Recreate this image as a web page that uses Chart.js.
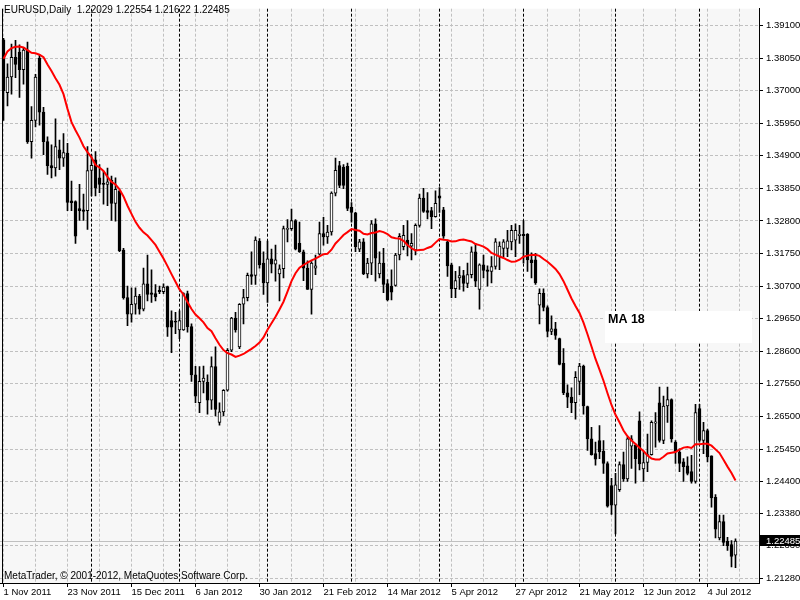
<!DOCTYPE html>
<html>
<head>
<meta charset="utf-8">
<script src="https://cdn.jsdelivr.net/npm/chart.js@4.4.1/dist/chart.umd.min.js"></script>
<style>
  html, body { margin: 0; padding: 0; background: #fff; }
  #wrap { width: 800px; height: 600px; }
</style>
</head>
<body>
<div id="wrap"><canvas id="chart" width="800" height="600"></canvas></div>
<script>
const title = 'EURUSD,Daily';
const footer = 'MetaTrader, \u00a9 2001-2012, MetaQuotes Software Corp.';
const firstDay = '2011-11-01';

// daily OHLC (one entry per trading day)
const opens = [
  1.38633, 1.36932, 1.37440, 1.38075, 1.38243, 1.37671, 1.38306, 1.35354, 1.36043, 1.38052,
  1.36306, 1.35354, 1.34583, 1.34506, 1.35090, 1.34824, 1.34983, 1.33449, 1.33427, 1.33195,
  1.33154, 1.33132, 1.34424, 1.34773, 1.34189, 1.34011, 1.33979, 1.34106, 1.33364, 1.33767,
  1.31862, 1.30329, 1.29798, 1.30116, 1.30379, 1.29957, 1.30773, 1.30487, 1.30456, 1.30560,
  1.30519, 1.30687, 1.29586, 1.29567, 1.29291, 1.29291, 1.30456, 1.29395, 1.27840, 1.26941,
  1.27630, 1.27598, 1.27027, 1.28106, 1.26306, 1.26646, 1.27344, 1.28633, 1.29671, 1.28741,
  1.30116, 1.30329, 1.31068, 1.31046, 1.32148, 1.31440, 1.30805, 1.31576, 1.31408, 1.31090,
  1.31259, 1.32529, 1.32551, 1.32814, 1.32075, 1.31808, 1.31281, 1.30592, 1.31281, 1.31725,
  1.32392, 1.32284, 1.32443, 1.33694, 1.34583, 1.34538, 1.34560, 1.33237, 1.33059, 1.31894,
  1.32125, 1.31090, 1.31440, 1.32710, 1.31090, 1.31440, 1.30783, 1.30697, 1.30719, 1.31703,
  1.31967, 1.32179, 1.31989, 1.31862, 1.32656, 1.33535, 1.33132, 1.33132, 1.32941, 1.33608,
  1.33154, 1.32125, 1.31386, 1.30614, 1.30963, 1.31037, 1.30783, 1.31068, 1.31808, 1.30592,
  1.31386, 1.31227, 1.31173, 1.31332, 1.31649, 1.31916, 1.31916, 1.32125, 1.32179, 1.32329,
  1.32370, 1.32370, 1.31544, 1.31544, 1.30084, 1.30465, 1.30011, 1.29237, 1.29322, 1.29005,
  1.28211, 1.27259, 1.27122, 1.26941, 1.27630, 1.28125, 1.26814, 1.25776, 1.25300, 1.25725,
  1.25376, 1.24983, 1.24275, 1.23640, 1.24138, 1.24951, 1.24487, 1.25544, 1.25567, 1.26360,
  1.24805, 1.25014, 1.25268, 1.26284, 1.26941, 1.25725, 1.26836, 1.27046, 1.25671, 1.25354,
  1.25037, 1.24910, 1.24719, 1.24402, 1.26751, 1.25725, 1.26043, 1.25227, 1.23894, 1.22582,
  1.23110, 1.22475, 1.22370, 1.22029
];
const highs = [
  1.38687, 1.37862, 1.38497, 1.38624, 1.38475, 1.38392, 1.38560, 1.36487, 1.37522, 1.38157,
  1.36465, 1.35513, 1.35249, 1.36094, 1.35408, 1.35618, 1.35300, 1.34084, 1.33449, 1.33979,
  1.33662, 1.35195, 1.34932, 1.35037, 1.34614, 1.34402, 1.34506, 1.34243, 1.34189, 1.33789,
  1.31916, 1.30697, 1.30646, 1.30646, 1.30433, 1.31281, 1.31703, 1.31227, 1.30751, 1.30697,
  1.30773, 1.30697, 1.29903, 1.29852, 1.29903, 1.30487, 1.30538, 1.29481, 1.28116, 1.28106,
  1.28125, 1.27840, 1.28424, 1.28741, 1.26941, 1.27364, 1.28687, 1.29694, 1.29852, 1.30138,
  1.30592, 1.31122, 1.31808, 1.32284, 1.32233, 1.31808, 1.32148, 1.31894, 1.32021, 1.31386,
  1.32633, 1.32846, 1.33186, 1.32846, 1.32760, 1.31862, 1.31513, 1.31490, 1.31703, 1.32760,
  1.32919, 1.32656, 1.33735, 1.34824, 1.34719, 1.34614, 1.34665, 1.33395, 1.33078, 1.32211,
  1.32233, 1.31598, 1.32814, 1.32868, 1.31808, 1.31916, 1.30910, 1.31227, 1.31757, 1.32392,
  1.32656, 1.32814, 1.32392, 1.32710, 1.33662, 1.33852, 1.33713, 1.33237, 1.33767, 1.33871,
  1.33237, 1.32179, 1.31440, 1.31173, 1.31332, 1.31205, 1.31440, 1.31967, 1.32075, 1.31418,
  1.31703, 1.31354, 1.31649, 1.32233, 1.32125, 1.32202, 1.32497, 1.32656, 1.32710, 1.32656,
  1.32814, 1.32392, 1.31776, 1.31757, 1.30614, 1.30614, 1.30062, 1.29744, 1.29535, 1.29027,
  1.28687, 1.27522, 1.27418, 1.27948, 1.28211, 1.28157, 1.26836, 1.26148, 1.25671, 1.26202,
  1.25725, 1.25037, 1.24506, 1.24665, 1.25037, 1.25354, 1.25830, 1.25884, 1.25618, 1.26646,
  1.25376, 1.25935, 1.26360, 1.26624, 1.27449, 1.27154, 1.27449, 1.27068, 1.25725, 1.25459,
  1.25141, 1.25195, 1.25249, 1.26887, 1.26887, 1.26306, 1.26094, 1.25227, 1.23979, 1.23322,
  1.23322, 1.22602, 1.22497, 1.22554
];
const lows = [
  1.36043, 1.36506, 1.36887, 1.37417, 1.36783, 1.37205, 1.35300, 1.34824, 1.35830, 1.35884,
  1.34932, 1.34297, 1.34189, 1.34243, 1.34456, 1.34560, 1.33132, 1.33132, 1.32075, 1.32814,
  1.32814, 1.32529, 1.33608, 1.33608, 1.33713, 1.33344, 1.33290, 1.32814, 1.32792, 1.31808,
  1.30275, 1.29427, 1.29535, 1.29798, 1.29798, 1.29903, 1.30221, 1.30170, 1.30221, 1.30456,
  1.30456, 1.29078, 1.28551, 1.29164, 1.29005, 1.29268, 1.29217, 1.27630, 1.26941, 1.26624,
  1.27259, 1.26570, 1.26729, 1.26519, 1.26221, 1.26519, 1.27313, 1.28583, 1.29217, 1.28687,
  1.29481, 1.30221, 1.30751, 1.30751, 1.31281, 1.30433, 1.30170, 1.31122, 1.30856, 1.30221,
  1.30963, 1.32125, 1.32497, 1.31862, 1.31789, 1.30878, 1.30592, 1.29798, 1.31068, 1.31703,
  1.32021, 1.32075, 1.32338, 1.33608, 1.33871, 1.33840, 1.33132, 1.32760, 1.31808, 1.31808,
  1.31068, 1.30963, 1.31068, 1.30856, 1.30963, 1.30487, 1.30221, 1.30252, 1.30697, 1.31544,
  1.31862, 1.31671, 1.31544, 1.31703, 1.32602, 1.33078, 1.32868, 1.32551, 1.32919, 1.33078,
  1.32233, 1.31014, 1.30329, 1.30329, 1.30592, 1.30538, 1.30646, 1.30963, 1.30678, 1.29957,
  1.30963, 1.30697, 1.30805, 1.31249, 1.31227, 1.31649, 1.31649, 1.31862, 1.31649, 1.32075,
  1.31440, 1.31173, 1.30963, 1.30751, 1.29481, 1.29903, 1.29059, 1.29132, 1.28983, 1.28157,
  1.27205, 1.26783, 1.26624, 1.26411, 1.27205, 1.26570, 1.25408, 1.25249, 1.24932, 1.25141,
  1.24665, 1.23576, 1.23344, 1.22710, 1.24084, 1.24402, 1.24402, 1.24824, 1.24348, 1.24773,
  1.24402, 1.24719, 1.25249, 1.25513, 1.25671, 1.25618, 1.26306, 1.25671, 1.24983, 1.24719,
  1.24402, 1.24614, 1.24348, 1.24348, 1.25671, 1.25300, 1.25037, 1.23576, 1.22582, 1.22519,
  1.22338, 1.22179, 1.21649, 1.21622
];
const closes = [
  1.36995, 1.37440, 1.38075, 1.37840, 1.37671, 1.38306, 1.35354, 1.36043, 1.37440, 1.36306,
  1.35354, 1.34583, 1.34506, 1.35195, 1.34824, 1.35005, 1.33395, 1.33386, 1.32306, 1.33132,
  1.33110, 1.34424, 1.34592, 1.33852, 1.33979, 1.33979, 1.34062, 1.33364, 1.33821, 1.31840,
  1.30329, 1.29798, 1.30116, 1.30379, 1.29957, 1.30773, 1.30433, 1.30433, 1.30348, 1.30519,
  1.30665, 1.29376, 1.29376, 1.29535, 1.29586, 1.30456, 1.29395, 1.27840, 1.27154, 1.27630,
  1.27735, 1.27027, 1.28106, 1.26729, 1.26646, 1.27344, 1.28633, 1.29671, 1.29291, 1.30116,
  1.30329, 1.31046, 1.31014, 1.32179, 1.31386, 1.30805, 1.31576, 1.31408, 1.31544, 1.31259,
  1.32551, 1.32551, 1.32814, 1.31894, 1.31808, 1.31281, 1.30592, 1.31440, 1.31354, 1.32392,
  1.32284, 1.32443, 1.33694, 1.34433, 1.33948, 1.33948, 1.33205, 1.33078, 1.31967, 1.32125,
  1.31090, 1.31440, 1.32710, 1.31598, 1.31440, 1.30751, 1.30252, 1.30506, 1.31703, 1.32306,
  1.32338, 1.32021, 1.32075, 1.32656, 1.33535, 1.33110, 1.33078, 1.32941, 1.33364, 1.33535,
  1.32306, 1.31354, 1.30614, 1.30878, 1.31037, 1.30783, 1.31068, 1.31808, 1.30856, 1.31386,
  1.31205, 1.31173, 1.31332, 1.32125, 1.31989, 1.32125, 1.32157, 1.32497, 1.32497, 1.32370,
  1.32329, 1.31544, 1.31459, 1.30805, 1.30465, 1.30011, 1.29237, 1.29322, 1.29110, 1.28179,
  1.27259, 1.27122, 1.26941, 1.27757, 1.28125, 1.26836, 1.25776, 1.25268, 1.25122, 1.25354,
  1.24983, 1.23608, 1.23640, 1.24297, 1.24951, 1.24487, 1.25776, 1.25776, 1.25141, 1.24973,
  1.25014, 1.25268, 1.26306, 1.26329, 1.25725, 1.26836, 1.27046, 1.25776, 1.25354, 1.24983,
  1.24878, 1.24665, 1.24402, 1.26624, 1.25725, 1.26043, 1.25195, 1.23871, 1.22868, 1.23110,
  1.22443, 1.22338, 1.21989, 1.22485
];

// moving average: the first bars lean on history left of the chart, so read them off the picture
const maPeriod = 18;
const maLead = [
  1.38030, 1.38265, 1.38370, 1.38411, 1.38424, 1.38392, 1.38306, 1.38221, 1.38202, 1.38157,
  1.38075, 1.37840, 1.37630, 1.37395, 1.37186, 1.36887, 1.36411
];

const priceTicks = [
  1.39100, 1.38050, 1.37000, 1.35950, 1.34900, 1.33850, 1.32800, 1.31750, 1.30700, 1.29650,
  1.28600, 1.27550, 1.26500, 1.25450, 1.24400, 1.23380, 1.22330, 1.21280
];
const lastPrice = closes[closes.length - 1];

const months = ['Jan', 'Feb', 'Mar', 'Apr', 'May', 'Jun', 'Jul', 'Aug', 'Sep', 'Oct', 'Nov', 'Dec'];

function tradingDays(start, n) {
  const out = [];
  const d = new Date(start + 'T00:00:00Z');
  while (out.length < n) {
    const wd = d.getUTCDay();
    if (wd !== 0 && wd !== 6) out.push(new Date(d));
    d.setUTCDate(d.getUTCDate() + 1);
  }
  return out;
}
const days = tradingDays(firstDay, closes.length);
const dayLabel = d => d.getUTCDate() + ' ' + months[d.getUTCMonth()] + ' ' + d.getUTCFullYear();

// month separators
const monthStarts = [];
for (let i = 1; i < days.length; i++) {
  if (days[i].getUTCMonth() !== days[i - 1].getUTCMonth()) monthStarts.push(i);
}

const ma = closes.map((c, i) => {
  if (i < maPeriod - 1) return maLead[i];
  let s = 0;
  for (let k = i - maPeriod + 1; k <= i; k++) s += closes[k];
  return s / maPeriod;
});

// 4 px per bar, 800x600 window
const barPx = 4;
const plotRight = 759;
const plotBottom = 583;
const xMin = -3.5 / barPx;
const xMax = xMin + plotRight / barPx;
const pxPerUnit = 3150;
const yMax = 1.391 + 17 / pxPerUnit;
const yMin = yMax - plotBottom / pxPerUnit;

const gridBars = [];
for (let v = 0; v <= xMax; v += 8) gridBars.push(v);

const labelFont = { family: 'Liberation Sans', size: 9.5 };

const mt4Extras = {
  id: 'mt4Extras',
  beforeDraw(chart) {
    const { ctx, chartArea: a } = chart;
    ctx.save();
    ctx.fillStyle = '#ffffff';
    ctx.fillRect(0, 0, chart.width, chart.height);
    ctx.fillStyle = '#f7f7f7';
    ctx.fillRect(a.left, a.top, a.right - a.left, a.bottom - a.top);
    ctx.restore();
  },
  beforeDatasetsDraw(chart) {
    const { ctx, chartArea: a, scales: { x, y } } = chart;
    ctx.save();
    ctx.lineWidth = 1;
    ctx.strokeStyle = '#000';
    ctx.setLineDash([3, 2]);
    monthStarts.forEach(i => {
      const px = Math.round(x.getPixelForValue(i) - 0.5) + 0.5;
      ctx.beginPath();
      ctx.moveTo(px, a.top);
      ctx.lineTo(px, a.bottom);
      ctx.stroke();
    });
    ctx.setLineDash([]);
    // bid line
    ctx.strokeStyle = '#c0c0c0';
    const py = Math.round(y.getPixelForValue(lastPrice) - 0.5) + 0.5;
    ctx.beginPath();
    ctx.moveTo(a.left, py);
    ctx.lineTo(a.right, py);
    ctx.stroke();
    // left frame
    ctx.strokeStyle = '#000';
    ctx.beginPath();
    ctx.moveTo(2.5, a.top);
    ctx.lineTo(2.5, a.bottom);
    ctx.stroke();
    ctx.restore();
  },
  afterDraw(chart) {
    const { ctx, chartArea: a, scales: { y } } = chart;
    ctx.save();
    ctx.fillStyle = '#000';
    ctx.textBaseline = 'middle';
    ctx.font = '10px "Liberation Sans"';
    const o = opens.length - 1;
    ctx.fillText(title + '  ' + [opens[o], highs[o], lows[o], closes[o]].map(v => v.toFixed(5)).join(' '), 4, 10);
    ctx.fillText(footer, 4, 576);

    // indicator label
    ctx.fillStyle = '#ffffff';
    ctx.fillRect(a.right - 154, 311, 147, 32);
    ctx.fillStyle = '#000';
    ctx.font = 'bold 12.5px "Liberation Sans"';
    ctx.fillText('MA ' + maPeriod, a.right - 151, 320);

    // current price tag on the axis
    const py = y.getPixelForValue(lastPrice);
    ctx.fillStyle = '#000';
    ctx.fillRect(a.right + 1, Math.round(py) - 6, chart.width - a.right - 1, 11);
    ctx.fillStyle = '#fff';
    ctx.font = '9.5px "Liberation Sans"';
    ctx.fillText(lastPrice.toFixed(5), a.right + 7, Math.round(py));
    ctx.restore();
  }
};

new Chart(document.getElementById('chart'), {
  type: 'bar',
  data: {
    datasets: [
      {
        type: 'line',
        label: 'MA ' + maPeriod,
        data: ma.map((v, i) => ({ x: i, y: v })),
        borderColor: '#ff0000',
        borderWidth: 2,
        pointRadius: 0,
        tension: 0,
        order: 0
      },
      {
        label: 'body',
        data: opens.map((o, i) => ({ x: i, y: [o, closes[i]] })),
        backgroundColor: opens.map((o, i) => closes[i] >= o ? '#ffffff' : '#000000'),
        borderColor: '#000000',
        borderWidth: 1,
        borderSkipped: false,
        barThickness: 3,
        minBarLength: 1,
        grouped: false,
        order: 1
      },
      {
        label: 'wick',
        data: lows.map((l, i) => ({ x: i, y: [l, highs[i]] })),
        backgroundColor: '#000000',
        borderWidth: 0,
        barThickness: 1,
        grouped: false,
        order: 2
      }
    ]
  },
  options: {
    responsive: false,
    animation: false,
    devicePixelRatio: 1,
    layout: { padding: 0 },
    plugins: { legend: { display: false }, tooltip: { enabled: false } },
    scales: {
      x: {
        type: 'linear',
        min: xMin,
        max: xMax,
        offset: false,
        afterBuildTicks: axis => { axis.ticks = gridBars.map(v => ({ value: v })); },
        afterFit: axis => { axis.height = 600 - plotBottom; },
        grid: {
          offset: false,
          color: '#c0c0c0',
          tickLength: 4,
          tickColor: ctx => (ctx.tick && ctx.tick.value % 16 === 0 ? '#000' : 'rgba(0,0,0,0)'),
          tickBorderDash: []
        },
        border: { display: true, color: '#000', dash: [3, 2] },
        ticks: {
          autoSkip: false,
          maxRotation: 0,
          align: 'start',
          padding: 0,
          color: '#000',
          font: labelFont,
          callback: v => (v % 16 === 0 && days[v] ? dayLabel(days[v]) : '')
        }
      },
      y: {
        type: 'linear',
        position: 'right',
        min: yMin,
        max: yMax,
        afterBuildTicks: axis => { axis.ticks = priceTicks.map(v => ({ value: v })); },
        afterFit: axis => { axis.width = 800 - plotRight; },
        grid: { color: '#c0c0c0', tickLength: 4, tickColor: '#000', tickBorderDash: [] },
        border: { display: true, color: '#000', dash: [3, 2] },
        ticks: {
          autoSkip: false,
          padding: 3,
          color: '#000',
          font: labelFont,
          callback: v => v.toFixed(5)
        }
      }
    }
  },
  plugins: [mt4Extras]
});
</script>
</body>
</html>
